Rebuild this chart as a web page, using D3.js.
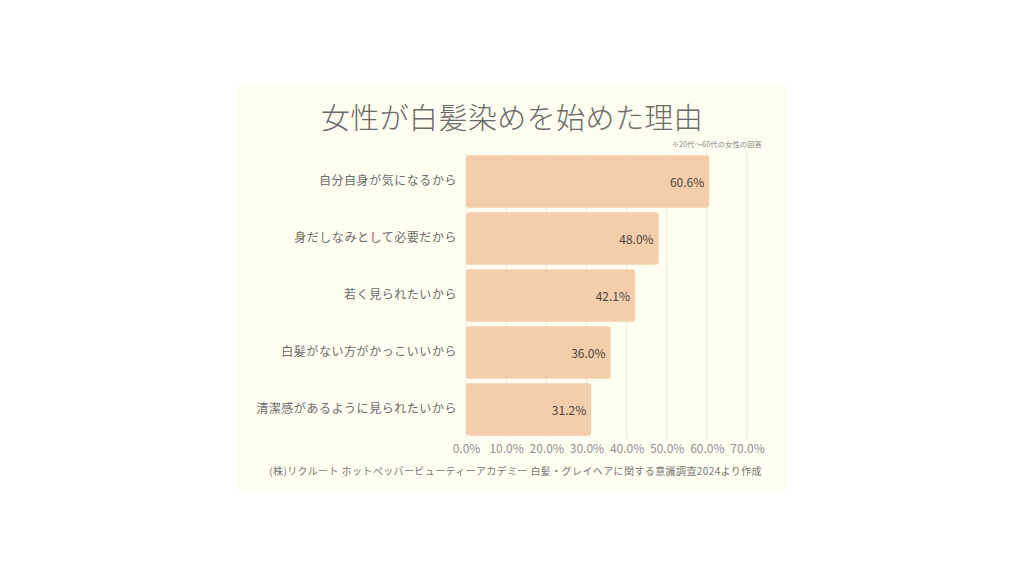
<!DOCTYPE html>
<html><head><meta charset="utf-8">
<script src="https://cdn.jsdelivr.net/npm/d3@7"></script>
<style>
html,body{margin:0;padding:0;background:#fff;}
svg{display:block;}
text{font-family:"Noto Sans CJK JP","Noto Sans",sans-serif;}
</style></head>
<body>
<svg id="chart" width="1024" height="576"></svg>
<script>
const categories = ["自分自身が気になるから","身だしなみとして必要だから","若く見られたいから","白髪がない方がかっこいいから","清潔感があるように見られたいから"];
const values = [60.6, 48.0, 42.1, 36.0, 31.2];
const tickValues = [0,10,20,30,40,50,60,70];
const title = "女性が白髪染めを始めた理由";
const subtitle = "※20代〜60代の女性の回答";
const source = "(株)リクルート ホットペッパービューティーアカデミー 白髪・グレイヘアに関する意識調査2024より作成";

const svg = d3.select("#chart");
svg.append("rect").attr("x",238).attr("y",85).attr("width",548).attr("height",407).attr("fill","#fefef0");

const x = d3.scaleLinear().domain([0,70]).range([466,747]);
const y = d3.scaleBand().domain(categories).range([153,438]).paddingInner(0.08).paddingOuter(0.04);

// gridlines
svg.append("g").selectAll("line").data(tickValues).join("line")
  .attr("x1",d=>x(d)).attr("x2",d=>x(d)).attr("y1",153).attr("y2",438)
  .attr("stroke","#ecebdc").attr("stroke-width",1);

// bars
svg.append("g").selectAll("rect").data(values).join("rect")
  .attr("x",x(0)).attr("y",(d,i)=>y(categories[i]))
  .attr("width",d=>x(d)-x(0)).attr("height",y.bandwidth())
  .attr("rx",3).attr("fill","#f4cdab");

// value labels
svg.append("g").selectAll("text").data(values).join("text")
  .attr("x",d=>x(d)-5).attr("y",(d,i)=>y(categories[i])+y.bandwidth()/2)
  .attr("text-anchor","end").attr("dominant-baseline","central")
  .attr("font-size",12).attr("fill","#4a4540")
  .text(d=>d.toFixed(1)+"%");

// y axis labels
const yAxis = d3.axisLeft(y).tickSize(0).tickPadding(9);
const gy = svg.append("g").attr("transform",`translate(${x(0)},0)`).call(yAxis);
gy.select(".domain").remove();
gy.selectAll("text").attr("font-size",12).attr("letter-spacing",0.55).attr("fill","#6b6b6b").style("font-family",'"Noto Sans CJK JP",sans-serif');

// x axis
const xAxis = d3.axisBottom(x).tickValues(tickValues).tickSize(0).tickPadding(6).tickFormat(d=>d.toFixed(1)+"%");
const gx = svg.append("g").attr("transform","translate(0,438)").call(xAxis);
gx.select(".domain").remove();
gx.selectAll("text").attr("font-size",12).attr("fill","#909090").style("font-family",'"Noto Sans CJK JP",sans-serif');

svg.append("text").attr("x",512).attr("y",129).attr("text-anchor","middle")
  .attr("font-size",29).attr("font-weight",300).attr("fill","#6a6a6a").attr("letter-spacing",0.4).text(title);
svg.append("text").attr("x",762).attr("y",147).attr("text-anchor","end")
  .attr("font-size",7.4).attr("fill","#8a8a8a").text(subtitle);
svg.append("text").attr("x",762).attr("y",475).attr("text-anchor","end")
  .attr("font-size",10).attr("letter-spacing",0.4).attr("fill","#777").text(source);
</script>
</body></html>
